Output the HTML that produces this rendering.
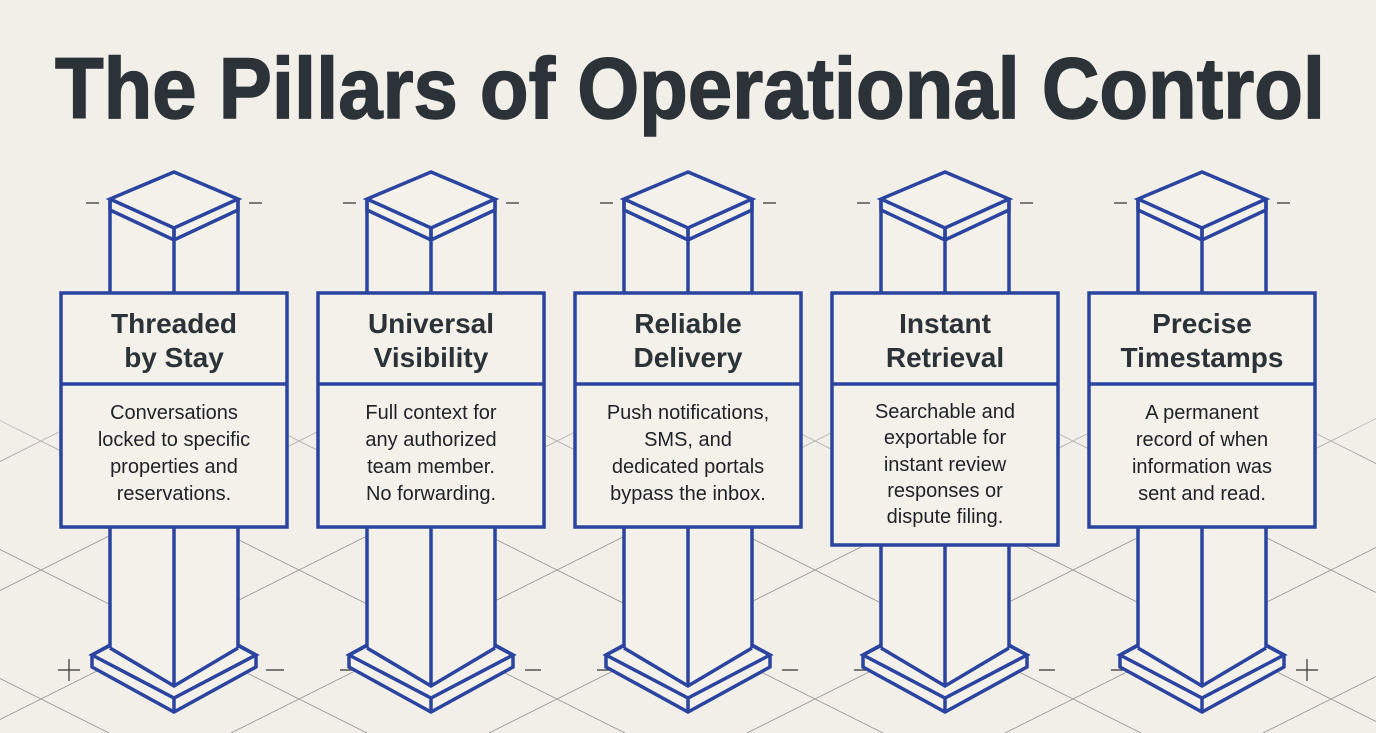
<!DOCTYPE html>
<html><head><meta charset="utf-8"><style>
html,body{margin:0;padding:0;background:#f1efe8;}
svg{display:block;}
.t{font-family:"Liberation Sans",sans-serif;font-weight:bold;fill:#2b3238;}
.b{font-family:"Liberation Sans",sans-serif;fill:#1e2226;font-size:20px;}
</style></head><body>
<svg width="1376" height="733" viewBox="0 0 1376 733" xmlns="http://www.w3.org/2000/svg">
<defs>
<pattern id="g" width="258" height="129" patternUnits="userSpaceOnUse" x="41" y="54">
<path d="M0 0L258 129M0 129L258 0" stroke="#9a9a96" stroke-width="0.9" fill="none"/>
</pattern>
<linearGradient id="fade" x1="0" y1="0" x2="0" y2="1">
<stop offset="0" stop-color="#fff" stop-opacity="0"/>
<stop offset="0.3" stop-color="#fff" stop-opacity="1"/>
<stop offset="1" stop-color="#fff" stop-opacity="1"/>
</linearGradient>
<mask id="m"><rect x="0" y="360" width="1376" height="373" fill="url(#fade)"/></mask>
<g id="p" stroke="#2a44a0" stroke-width="3.5" stroke-linejoin="miter">
<path d="M-82 655V667L0 712L82 667V655L0 612Z" fill="#f3f1ea"/>
<rect x="-64" y="199" width="128" height="450" fill="#f3f1ea" stroke="none"/>
<path d="M-64 645L-82 655L0 698L82 655L64 645" fill="none"/>
<path d="M0 698V712" fill="none"/>
<path d="M-64 199V648M64 199V648M0 228V686" fill="none"/>
<path d="M-64 648L0 686L64 648" fill="none"/>
<path d="M0 172L64 199L0 228L-64 199Z" fill="#f3f1ea"/>
<path d="M-64 199V210L0 240L64 210V199M0 228V240" fill="none"/>
<path d="M-88 203H-75M75 203H88" stroke="#333" stroke-width="1.2"/>
</g>
</defs>
<rect width="1376" height="733" fill="#f1efe8"/>
<rect x="0" y="360" width="1376" height="373" fill="url(#g)" mask="url(#m)"/>

<text class="t" x="690" y="118" text-anchor="middle" font-size="86" textLength="1270" lengthAdjust="spacingAndGlyphs" stroke="#2b3238" stroke-width="1.5">The Pillars of Operational Control</text>

<g stroke="#333" stroke-width="1.2" fill="none">
<path d="M58 670H80M69 659V681M266 670H284M340 670H356M525 670H541M597 670H613M782 670H798M854 670H870M1039 670H1055M1111 670H1127M1296 670H1318M1307 659V681"/>
</g>

<use href="#p" x="174"/>
<use href="#p" x="431"/>
<use href="#p" x="688"/>
<use href="#p" x="945"/>
<use href="#p" x="1202"/>

<g fill="#f3f1ea" stroke="#2a44a0" stroke-width="3.5">
<rect x="61" y="293" width="226" height="234"/><path d="M61 384H287"/>
<rect x="318" y="293" width="226" height="234"/><path d="M318 384H544"/>
<rect x="575" y="293" width="226" height="234"/><path d="M575 384H801"/>
<rect x="832" y="293" width="226" height="252"/><path d="M832 384H1058"/>
<rect x="1089" y="293" width="226" height="234"/><path d="M1089 384H1315"/>
</g>

<g class="t" font-size="28" text-anchor="middle">
<text x="174" y="333">Threaded</text><text x="174" y="367">by Stay</text>
<text x="431" y="333">Universal</text><text x="431" y="367">Visibility</text>
<text x="688" y="333">Reliable</text><text x="688" y="367">Delivery</text>
<text x="945" y="333">Instant</text><text x="945" y="367">Retrieval</text>
<text x="1202" y="333">Precise</text><text x="1202" y="367">Timestamps</text>
</g>
<g class="b" text-anchor="middle">
<text x="174" y="419">Conversations</text><text x="174" y="446">locked to specific</text><text x="174" y="473">properties and</text><text x="174" y="500">reservations.</text>
<text x="431" y="419">Full context for</text><text x="431" y="446">any authorized</text><text x="431" y="473">team member.</text><text x="431" y="500">No forwarding.</text>
<text x="688" y="419">Push notifications,</text><text x="688" y="446">SMS, and</text><text x="688" y="473">dedicated portals</text><text x="688" y="500">bypass the inbox.</text>
<text x="945" y="418">Searchable and</text><text x="945" y="444">exportable for</text><text x="945" y="471">instant review</text><text x="945" y="497">responses or</text><text x="945" y="523">dispute filing.</text>
<text x="1202" y="419">A permanent</text><text x="1202" y="446">record of when</text><text x="1202" y="473">information was</text><text x="1202" y="500">sent and read.</text>
</g>
</svg>
</body></html>
